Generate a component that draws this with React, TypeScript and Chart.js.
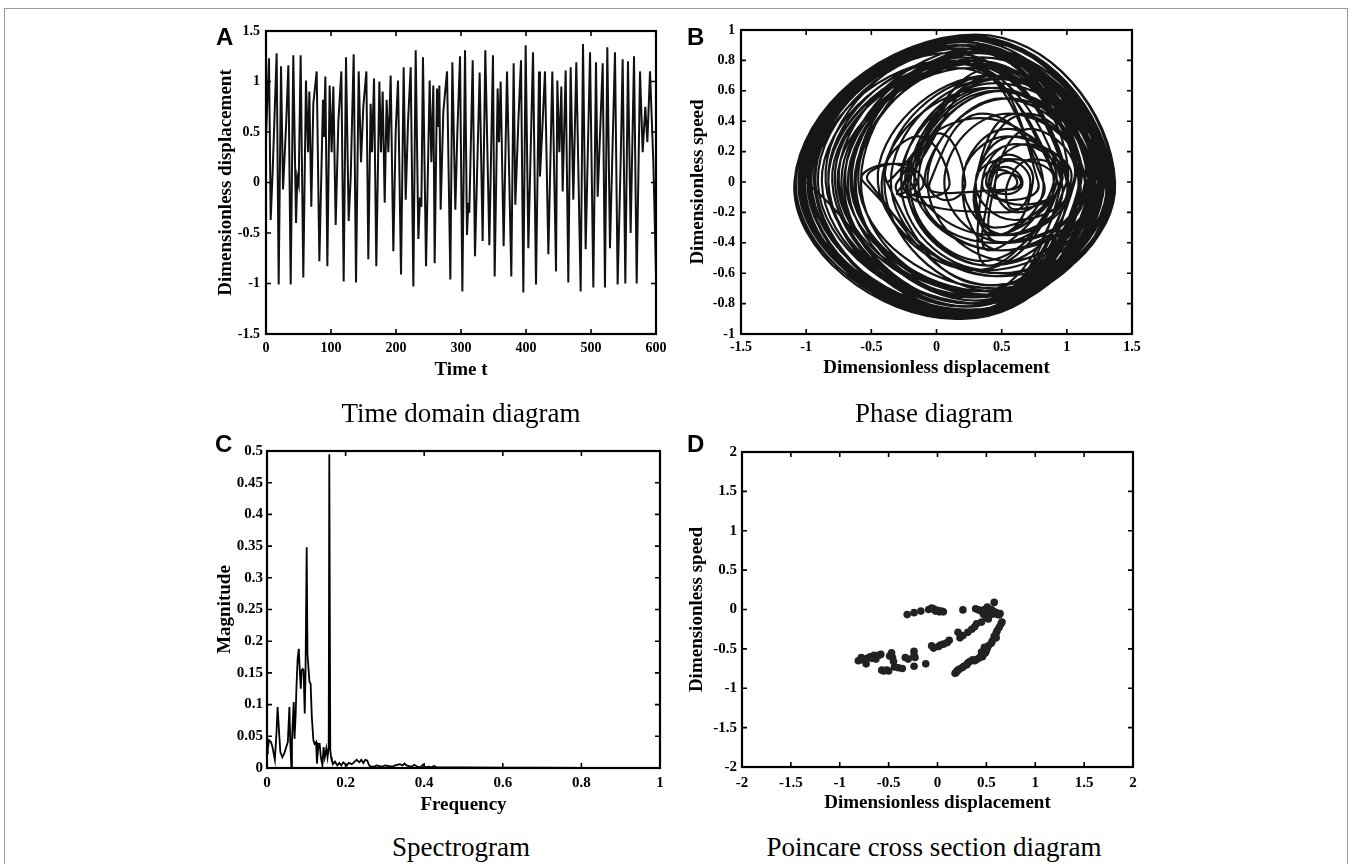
import React, { useEffect, useRef } from 'react';
import { Chart, registerables } from 'chart.js';

Chart.register(...registerables);

const SERIF = "'Liberation Serif', 'Times New Roman', Times, serif";
const SANS = "'Liberation Sans', Arial, Helvetica, sans-serif";

// ---------- Panel A: time domain ----------
const timeT = [
  0, 4.6, 7.2, 10.3, 16.4, 19.5, 23.1, 26.2, 30.8, 34.4, 38.0, 42.0, 46.2, 48.2, 50.3, 53.3, 57.4, 61.5, 64.6, 66.7,
  69.7, 72.8, 78.0, 82.1, 87.7, 89.2, 91.3, 94.4, 97.9, 101.0, 103.6, 107.2, 111.3, 115.9, 119.5, 123.1, 127.2, 130.3, 134.9, 138.5,
  142.6, 146.2, 149.7, 154.4, 157.4, 161.0, 163.1, 166.2, 169.7, 174.4, 176.9, 179.5, 182.6, 185.6, 188.2, 191.8, 195.9, 199.5, 203.1, 207.7,
  211.8, 214.9, 218.5, 222.6, 226.7, 230.3, 234.4, 236.9, 239.0, 241.5, 246.2, 251.8, 254.4, 257.4, 259.5, 263.1, 265.1, 266.7, 268.7, 272.8,
  278.5, 283.6, 286.7, 291.3, 294.4, 298.5, 302.1, 306.2, 309.2, 311.3, 312.8, 318.0, 321.5, 328.7, 333.3, 337.4, 343.6, 349.2, 351.8, 356.4,
  358.5, 361.0, 365.6, 370.8, 377.4, 381.0, 383.6, 388.2, 392.3, 395.9, 399.5, 403.6, 410.8, 415.4, 420.0, 421.5, 425.6, 429.2, 434.4, 440.5,
  446.2, 448.2, 451.3, 454.4, 456.4, 461.0, 465.1, 468.7, 472.8, 477.4, 484.1, 487.7, 491.8, 498.5, 503.6, 507.7, 510.3, 518.0, 521.5, 525.1,
  529.2, 536.9, 541.0, 545.6, 548.7, 552.8, 556.9, 561.0, 566.2, 570.3, 575.4, 579.5, 583.6, 586.7, 590.8, 595.9, 600.0
];
const timeDisp = [
  0.45, 1.23, -0.37, 0.12, 1.28, -1.01, 1.15, -0.07, 0.55, 1.16, -1.01, 1.26, -0.40, 0.05, -0.02, 1.26, -0.94, 1.01, 0.30, 0.90,
  -0.24, 0.78, 1.10, -0.78, 0.82, 0.45, 1.05, -0.83, 0.96, 0.30, 0.95, -0.42, 0.60, 1.10, -0.98, 1.24, -0.38, 0.05, 1.27, -0.99,
  1.10, 0.20, 0.75, 1.10, -0.76, 0.78, 0.30, 1.03, -0.83, 1.00, 0.30, 0.90, -0.20, 0.82, 0.30, 1.06, -0.68, 0.50, 1.01, -0.91,
  1.14, -0.17, 0.60, 1.14, -1.03, 1.31, -0.56, -0.15, -0.24, 1.24, -0.83, 1.01, 0.20, 0.96, -0.80, 0.93, 0.55, 0.96, -0.27, 0.70,
  1.10, -0.96, 1.19, -0.27, 0.50, 1.25, -1.08, 1.31, -0.52, -0.20, -0.30, 1.21, -0.73, 1.09, -0.58, 1.31, -0.62, 1.26, -0.93, 0.93,
  0.40, 1.00, -0.63, 1.10, -0.93, 1.18, -0.22, 0.60, 1.21, -1.09, 1.36, -0.65, 1.29, -1.01, 1.10, 0.06, 0.60, 1.10, -0.71, 1.10,
  -0.88, 1.01, 0.30, 0.95, -0.09, 1.11, -0.99, 1.14, -0.17, 1.19, -1.08, 1.37, -0.66, 1.29, -1.04, 1.19, -0.14, 1.18, -1.04, 1.34,
  -0.65, 1.29, -1.01, 0.20, 1.22, -1.00, 1.20, -0.50, 1.25, -1.00, 1.10, 0.30, 0.75, 0.40, 1.10, 0.20, -0.90
];
const timeXTicks = [0, 100, 200, 300, 400, 500, 600];
const timeXLabels = ['0', '100', '200', '300', '400', '500', '600'];
const timeYTicks = [-1.5, -1, -0.5, 0, 0.5, 1, 1.5];
const timeYLabels = ['-1.5', '-1', '-0.5', '0', '0.5', '1', '1.5'];

// ---------- Panel B: phase diagram (turning points / speed extremes of each cycle) ----------
const phaseX = [
  -0.37, 0.45, 1.28, 0.15, -1.01, 0.15, 1.15, 0.55, -0.07, 0.55, 1.16, 0.10, -1.01, 0.20, 1.26, 0.45,
  -0.40, 0.45, 1.26, 0.20, -0.94, 0.10, 1.01, 0.40, -0.24, 0.33, 0.90, 0.35, -0.20, 0.45, 1.10, 0.25,
  -0.78, 0.15, 0.82, 0.62, 0.45, 0.72, 1.05, 0.20, -0.83, 0.10, 0.96, 0.50, 0.30, 0.60, 0.95, 0.30,
  -0.42, 0.40, 1.10, 0.20, -0.98, 0.20, 1.24, 0.40, -0.38, -0.14, 0.10, -0.08, -0.25, 0.45, 1.27, 0.20,
  -0.99, 0.15, 1.10, 0.50, 0.20, 0.55, 0.92, 0.45, 0.30, 0.62, 1.10, 0.30, -0.76, 0.25, 0.78, 0.55,
  0.35, 0.60, 1.03, 0.25, -0.83, 0.20, 1.00, 0.50, 0.30, 0.55, 0.90, 0.40, 0.42, 0.52, 0.66, 0.54,
  0.38, 0.55, 0.74, 0.45, -0.20, 0.02, 0.22, 0.08, -0.05, 0.35, 0.82, 0.45, 0.30, 0.70, 1.06, 0.30,
  -0.68, 0.30, 1.01, 0.25, -0.91, 0.20, 1.14, 0.45, -0.17, 0.50, 1.14, 0.20, -1.03, 0.25, 1.31, 0.50,
  -0.56, -0.35, -0.15, -0.30, -0.24, 0.45, 1.24, 0.25, -0.83, 0.20, 1.01, 0.55, 0.20, 0.55, 0.96, 0.25,
  -0.80, 0.15, 0.93, 0.60, 0.55, 0.75, 0.96, 0.40, 0.35, 0.48, 0.62, 0.50, 0.40, 0.55, 0.72, 0.55,
  -0.27, 0.40, 1.10, 0.25, -0.96, 0.20, 1.19, 0.40, -0.27, 0.45, 1.25, 0.20, -1.08, 0.25, 1.31, 0.45,
  -0.52, -0.30, -0.10, -0.25, -0.30, 0.40, 1.21, 0.25, -0.73, 0.25, 1.09, 0.30, -0.58, 0.30, 1.31, 0.30,
  -0.62, 0.30, 1.26, 0.20, -0.93, 0.10, 0.93, 0.65, 0.40, 0.70, 1.00, 0.25, -0.63, 0.30, 1.10, 0.20,
  -0.93, 0.15, 1.18, 0.40, -0.22, 0.50, 1.21, 0.15, -1.09, 0.30, 1.36, 0.40, -0.65, 0.35, 1.29, 0.15,
  -1.01, 0.20, 1.10, 0.55, 0.06, 0.55, 1.10, 0.25, -0.71, 0.30, 1.10, 0.25, -0.88, 0.20, 1.01, 0.60,
  0.30, 0.62, 0.95, 0.45, 0.45, 0.55, 0.65, 0.56, -0.09, 0.50, 1.11, 0.20, -0.99, 0.25, 1.14, 0.50,
  -0.17, 0.45, 1.19, 0.20, -1.08, 0.30, 1.37, 0.40, -0.66, 0.35, 1.29, 0.20, -1.04, 0.20, 1.19, 0.50,
  -0.14, 0.50, 1.18, 0.20, -1.04, 0.25, 1.34, 0.40, -0.65, 0.35, 1.29, 0.20, -1.01, 0.25, 1.32, 0.35,
  -0.85, 0.20, 1.22, 0.30, -1.05, 0.25, 1.30, 0.45, -0.60, 0.35, 1.25, 0.20, -1.02, 0.20, 1.20, 0.50,
  -0.45, 0.40, 1.20, 0.20, -1.06, 0.25, 1.33, 0.40, -0.75, 0.30, 1.28, 0.25, -0.97, 0.20, 1.17, 0.45,
  -0.35, 0.45, 1.22, 0.20, -1.05, 0.25, 1.35, 0.40, -0.70, 0.30, 1.27, 0.20, -1.00
];
const phaseV = [
  0, 0.68, 0, -0.88, 0, 0.93, 0, -0.52, 0, 0.55, 0, -0.88, 0, 0.94, 0, -0.72,
  0, 0.70, 0, -0.87, 0, 0.85, 0, -0.55, 0, 0.42, 0, -0.52, 0, 0.62, 0, -0.80,
  0, 0.78, 0, -0.20, 0, 0.35, 0, -0.82, 0, 0.80, 0, -0.40, 0, 0.30, 0, -0.58,
  0, 0.62, 0, -0.88, 0, 0.92, 0, -0.68, 0, 0.30, 0, -0.10, 0, 0.75, 0, -0.89,
  0, 0.90, 0, -0.45, 0, 0.35, 0, -0.30, 0, 0.45, 0, -0.75, 0, 0.75, 0, -0.12,
  0, 0.25, 0, -0.82, 0, 0.80, 0, -0.35, 0, 0.15, 0, -0.45, 0, 0.10, 0, -0.08,
  0, 0.18, 0, -0.35, 0, 0.32, 0, -0.12, 0, 0.45, 0, -0.35, 0, 0.45, 0, -0.78,
  0, 0.80, 0, -0.82, 0, 0.88, 0, -0.40, 0, 0.60, 0, -0.88, 0, 0.96, 0, -0.62,
  0, 0.12, 0, -0.08, 0, 0.70, 0, -0.85, 0, 0.78, 0, -0.35, 0, 0.30, 0, -0.82,
  0, 0.75, 0, -0.18, 0, 0.15, 0, -0.55, 0, 0.08, 0, -0.06, 0, 0.14, 0, -0.20,
  0, 0.62, 0, -0.86, 0, 0.90, 0, -0.58, 0, 0.65, 0, -0.90, 0, 0.96, 0, -0.68,
  0, 0.12, 0, -0.10, 0, 0.70, 0, -0.80, 0, 0.78, 0, -0.72, 0, 0.85, 0, -0.76,
  0, 0.85, 0, -0.86, 0, 0.80, 0, -0.15, 0, 0.25, 0, -0.76, 0, 0.78, 0, -0.86,
  0, 0.88, 0, -0.55, 0, 0.68, 0, -0.90, 0, 0.97, 0, -0.75, 0, 0.88, 0, -0.88,
  0, 0.90, 0, -0.40, 0, 0.45, 0, -0.80, 0, 0.80, 0, -0.82, 0, 0.82, 0, -0.25,
  0, 0.25, 0, -0.35, 0, 0.06, 0, -0.05, 0, 0.55, 0, -0.86, 0, 0.90, 0, -0.45,
  0, 0.60, 0, -0.90, 0, 0.97, 0, -0.72, 0, 0.85, 0, -0.88, 0, 0.92, 0, -0.45,
  0, 0.60, 0, -0.88, 0, 0.94, 0, -0.72, 0, 0.85, 0, -0.88, 0, 0.95, 0, -0.80,
  0, 0.90, 0, -0.85, 0, 0.95, 0, -0.70, 0, 0.82, 0, -0.87, 0, 0.92, 0, -0.60,
  0, 0.70, 0, -0.88, 0, 0.95, 0, -0.74, 0, 0.88, 0, -0.84, 0, 0.90, 0, -0.62,
  0, 0.68, 0, -0.88, 0, 0.96, 0, -0.72, 0, 0.86, 0, -0.87, 0
];
const phaseXTicks = [-1.5, -1, -0.5, 0, 0.5, 1, 1.5];
const phaseXLabels = ['-1.5', '-1', '-0.5', '0', '0.5', '1', '1.5'];
const phaseYTicks = [-1, -0.8, -0.6, -0.4, -0.2, 0, 0.2, 0.4, 0.6, 0.8, 1];
const phaseYLabels = ['-1', '-0.8', '-0.6', '-0.4', '-0.2', '0', '0.2', '0.4', '0.6', '0.8', '1'];

// ---------- Panel C: spectrum ----------
const specFreq = [
  0, 0.002, 0.005, 0.010, 0.014, 0.020, 0.024, 0.027, 0.031, 0.034, 0.039, 0.044, 0.049, 0.053, 0.057, 0.059, 0.062, 0.0635, 0.065, 0.068,
  0.070, 0.073, 0.075, 0.078, 0.081, 0.083, 0.086, 0.088, 0.091, 0.093, 0.096, 0.098, 0.101, 0.103, 0.108, 0.111, 0.114, 0.118, 0.121, 0.125,
  0.127, 0.131, 0.134, 0.137, 0.141, 0.144, 0.147, 0.151, 0.154, 0.157, 0.1585, 0.161, 0.163, 0.165, 0.169, 0.173, 0.179, 0.184, 0.189, 0.194,
  0.203, 0.208, 0.216, 0.221, 0.228, 0.235, 0.240, 0.245, 0.250, 0.255, 0.260, 0.265, 0.272, 0.279, 0.292, 0.300, 0.318, 0.326, 0.338, 0.345,
  0.350, 0.355, 0.362, 0.368, 0.375, 0.382, 0.390, 0.397, 0.404, 0.411, 0.418, 0.425, 0.432, 0.45, 0.5, 0.6, 0.7, 0.8, 0.9, 1.0
];
const specMag = [
  0.023, 0.030, 0.044, 0.041, 0.033, 0.013, 0.054, 0.096, 0.054, 0.025, 0.017, 0.023, 0.033, 0.041, 0.096, 0.044, 0.0, 0.044, 0.065, 0.104,
  0.046, 0.086, 0.128, 0.173, 0.188, 0.159, 0.125, 0.154, 0.156, 0.154, 0.086, 0.149, 0.348, 0.180, 0.136, 0.133, 0.081, 0.044, 0.038, 0.041,
  0.007, 0.038, 0.038, 0.017, 0.004, 0.033, 0.017, 0.031, 0.017, 0.033, 0.495, 0.028, 0.017, 0.012, 0.007, 0.010, 0.004, 0.008, 0.004, 0.009,
  0.004, 0.008, 0.006, 0.009, 0.013, 0.009, 0.013, 0.008, 0.013, 0.012, 0.004, 0.002, 0.002, 0.004, 0.002, 0.004, 0.002, 0.004, 0.006, 0.004,
  0.007, 0.004, 0.003, 0.002, 0.005, 0.002, 0.001, 0.005, 0.001, 0.002, 0.001, 0.003, 0.001, 0.001, 0.001, 0.0005, 0.0005, 0.0003, 0.0003, 0.0003
];
const specXTicks = [0, 0.2, 0.4, 0.6, 0.8, 1];
const specXLabels = ['0', '0.2', '0.4', '0.6', '0.8', '1'];
const specYTicks = [0, 0.05, 0.1, 0.15, 0.2, 0.25, 0.3, 0.35, 0.4, 0.45, 0.5];
const specYLabels = ['0', '0.05', '0.1', '0.15', '0.2', '0.25', '0.3', '0.35', '0.4', '0.45', '0.5'];

// ---------- Panel D: Poincare section ----------
const poincX = [
  -0.31, -0.24, -0.17, -0.09, -0.06, -0.04, -0.02, 0.00, 0.02, 0.06, 0.04,
  0.26, 0.39, 0.42, 0.45, 0.48, 0.51, 0.53, 0.56, 0.58, 0.55, 0.57, 0.61, 0.63, 0.60, 0.64, 0.66, 0.65, 0.63, 0.61, 0.60, 0.60, 0.50, 0.47, 0.52,
  0.45, 0.40, 0.38, 0.35, 0.31, 0.26, 0.21, 0.23, 0.12, 0.10, 0.06, 0.03, 0.01, -0.04, -0.06,
  0.58, 0.56, 0.55, 0.52, 0.51, 0.50, 0.49, 0.47, 0.46, 0.43, 0.41, 0.38, 0.36, 0.33, 0.31, 0.30, 0.27, 0.25, 0.22, 0.20, 0.19, 0.18, 0.21, 0.45, 0.48,
  -0.81, -0.78, -0.76, -0.73, -0.72, -0.69, -0.67, -0.65, -0.63, -0.60, -0.58, -0.57, -0.55, -0.52, -0.50, -0.49, -0.47, -0.46, -0.45, -0.44, -0.40, -0.36, -0.33, -0.30, -0.24, -0.24, -0.23, -0.24, -0.12
];
const poincV = [
  -0.065, -0.04, -0.02, 0.0, 0.02, 0.01, -0.02, -0.01, -0.03, -0.03, -0.02,
  -0.005, 0.01, -0.005, -0.02, 0.0, 0.03, -0.03, -0.06, 0.09, 0.0, -0.02, -0.06, -0.07, -0.04, -0.05, -0.16, -0.18, -0.23, -0.27, -0.30, -0.36, -0.10, -0.06, -0.12,
  -0.16, -0.18, -0.22, -0.25, -0.29, -0.33, -0.29, -0.36, -0.39, -0.42, -0.44, -0.45, -0.47, -0.49, -0.46,
  -0.34, -0.40, -0.43, -0.46, -0.49, -0.52, -0.55, -0.57, -0.60, -0.61, -0.63, -0.65, -0.64, -0.66, -0.68, -0.70, -0.72, -0.74, -0.76, -0.78, -0.80, -0.81, -0.77, -0.54, -0.48,
  -0.65, -0.61, -0.64, -0.69, -0.62, -0.60, -0.62, -0.58, -0.63, -0.58, -0.57, -0.77, -0.78, -0.77, -0.78, -0.59, -0.55, -0.61, -0.66, -0.73, -0.74, -0.75, -0.61, -0.63, -0.53, -0.58, -0.61, -0.72, -0.69
];
const poincTicks = [-2, -1.5, -1, -0.5, 0, 0.5, 1, 1.5, 2];
const poincLabels = ['-2', '-1.5', '-1', '-0.5', '0', '0.5', '1', '1.5', '2'];

// ---------- helpers ----------
const framePlugin = {
  id: 'matlabFrame',
  afterDatasetsDraw(chart: any) {
    const { ctx, chartArea } = chart;
    const { left, top, right, bottom } = chartArea;
    const xs = chart.scales.x;
    const ys = chart.scales.y;
    ctx.save();
    ctx.strokeStyle = '#000';
    ctx.lineWidth = 1.6;
    ctx.beginPath();
    for (const t of xs.ticks) {
      const px = xs.getPixelForValue(t.value);
      ctx.moveTo(px, bottom);
      ctx.lineTo(px, bottom - 5);
      ctx.moveTo(px, top);
      ctx.lineTo(px, top + 5);
    }
    for (const t of ys.ticks) {
      const py = ys.getPixelForValue(t.value);
      ctx.moveTo(left, py);
      ctx.lineTo(left + 5, py);
      ctx.moveTo(right, py);
      ctx.lineTo(right - 5, py);
    }
    ctx.stroke();
    ctx.lineWidth = 2.2;
    ctx.strokeRect(left, top, right - left, bottom - top);
    ctx.restore();
  },
};

type PanelProps = {
  left: number; top: number; width: number; height: number;
  padTop: number; padRight: number; yW: number; xH: number;
  type: 'line' | 'scatter';
  datasets: any[];
  xMin: number; xMax: number; yMin: number; yMax: number;
  xTicks: number[]; xLabels: string[]; yTicks: number[]; yLabels: string[];
  xTitle: string; yTitle: string; tickSize: number; xPad: number; yPad: number;
};

function axis(ticks: number[], labels: string[], min: number, max: number, title: string,
  tickSize: number, pad: number, fit: (s: any) => void) {
  return {
    type: 'linear',
    min, max,
    afterBuildTicks: (s: any) => { s.ticks = ticks.map((v) => ({ value: v })); },
    afterFit: fit,
    grid: { display: false, drawTicks: false },
    border: { display: false },
    ticks: {
      autoSkip: false, maxRotation: 0, minRotation: 0, padding: pad, color: '#000',
      font: { family: SERIF, size: tickSize, weight: 'bold' },
      callback: (_v: any, i: number) => labels[i],
    },
    title: {
      display: true, text: title, color: '#000',
      font: { family: SERIF, size: 19, weight: 'bold' },
      padding: { top: 4, bottom: 4 },
    },
  };
}

function Panel(p: PanelProps) {
  const ref = useRef<HTMLCanvasElement>(null);
  useEffect(() => {
    const chart = new Chart(ref.current as HTMLCanvasElement, {
      type: p.type,
      data: { datasets: p.datasets },
      options: {
        animation: false,
        responsive: false,
        events: [],
        layout: { padding: { left: 0, top: p.padTop, right: p.padRight, bottom: 0 } },
        plugins: { legend: { display: false }, tooltip: { enabled: false } },
        scales: {
          x: axis(p.xTicks, p.xLabels, p.xMin, p.xMax, p.xTitle, p.tickSize, p.xPad, (s: any) => { s.height = p.xH; }),
          y: axis(p.yTicks, p.yLabels, p.yMin, p.yMax, p.yTitle, p.tickSize, p.yPad, (s: any) => { s.width = p.yW; }),
        },
      } as any,
      plugins: [framePlugin],
    });
    return () => chart.destroy();
  }, []);
  return (
    <canvas
      ref={ref}
      width={p.width}
      height={p.height}
      style={{ position: 'absolute', left: p.left, top: p.top, width: p.width, height: p.height }}
    />
  );
}

const letterStyle = (left: number, top: number): React.CSSProperties => ({
  position: 'absolute', left, top, fontFamily: SANS, fontWeight: 'bold', fontSize: 24, lineHeight: '24px', color: '#000',
});
const captionStyle = (center: number, top: number): React.CSSProperties => ({
  position: 'absolute', left: center - 250, width: 500, top, textAlign: 'center',
  fontFamily: SERIF, fontSize: 27, lineHeight: '27px', color: '#000',
});

export default function App() {
  const timeData = timeT.map((t, i) => ({ x: t, y: timeDisp[i] }));
  const phaseData = phaseX.map((x, i) => ({ x, y: phaseV[i] }));
  const specData = specFreq.map((f, i) => ({ x: f, y: specMag[i] }));
  const poincData = poincX.map((x, i) => ({ x, y: poincV[i] }));

  return (
    <div style={{ position: 'absolute', left: 0, top: 0, width: 1352, height: 864, background: '#fff', overflow: 'hidden' }}>
      <div style={{ position: 'absolute', left: 4, top: 8, width: 1342, height: 900, border: '1px solid #9a9a9a' }} />

      <Panel
        left={211} top={10} width={471} height={375} padTop={21} padRight={26} yW={55} xH={51}
        type="line"
        datasets={[{ data: timeData, borderColor: '#111', borderWidth: 2, pointRadius: 0, tension: 0, fill: false }]}
        xMin={0} xMax={600} yMin={-1.5} yMax={1.5}
        xTicks={timeXTicks} xLabels={timeXLabels} yTicks={timeYTicks} yLabels={timeYLabels}
        xTitle="Time t" yTitle="Dimensionless displacement" tickSize={14} xPad={6} yPad={6}
      />
      <Panel
        left={683} top={10} width={477} height={373} padTop={20} padRight={28} yW={58} xH={49}
        type="line"
        datasets={[{ data: phaseData, borderColor: '#161616', borderWidth: 2.2, pointRadius: 0, tension: 0.5, fill: false, borderJoinStyle: 'round' }]}
        xMin={-1.5} xMax={1.5} yMin={-1} yMax={1}
        xTicks={phaseXTicks} xLabels={phaseXLabels} yTicks={phaseYTicks} yLabels={phaseYLabels}
        xTitle="Dimensionless displacement" yTitle="Dimensionless speed" tickSize={14} xPad={5} yPad={6}
      />
      <Panel
        left={210} top={430} width={480} height={390} padTop={21} padRight={30} yW={57} xH={52}
        type="line"
        datasets={[{ data: specData, borderColor: '#000', borderWidth: 1.8, pointRadius: 0, tension: 0, fill: false }]}
        xMin={0} xMax={1} yMin={0} yMax={0.5}
        xTicks={specXTicks} xLabels={specXLabels} yTicks={specYTicks} yLabels={specYLabels}
        xTitle="Frequency" yTitle="Magnitude" tickSize={15} xPad={6} yPad={4}
      />
      <Panel
        left={682} top={430} width={478} height={388} padTop={22} padRight={27} yW={60} xH={51}
        type="scatter"
        datasets={[{ data: poincData, backgroundColor: '#222', borderWidth: 0, pointRadius: 3.8 }]}
        xMin={-2} xMax={2} yMin={-2} yMax={2}
        xTicks={poincTicks} xLabels={poincLabels} yTicks={poincTicks} yLabels={poincLabels}
        xTitle="Dimensionless displacement" yTitle="Dimensionless speed" tickSize={15} xPad={7} yPad={5}
      />

      <div style={letterStyle(216, 25)}>A</div>
      <div style={letterStyle(687, 25)}>B</div>
      <div style={letterStyle(215, 432)}>C</div>
      <div style={letterStyle(687, 432)}>D</div>

      <div style={captionStyle(461, 400)}>Time domain diagram</div>
      <div style={captionStyle(934, 400)}>Phase diagram</div>
      <div style={captionStyle(461, 834)}>Spectrogram</div>
      <div style={captionStyle(934, 834)}>Poincare cross section diagram</div>
    </div>
  );
}
